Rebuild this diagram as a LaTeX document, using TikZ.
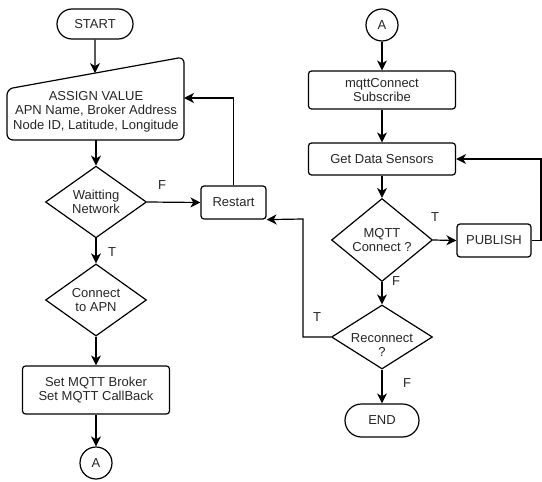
\documentclass[tikz,border=0pt]{standalone}
\usepackage{fontspec}
\setmainfont{Liberation Sans}
\usetikzlibrary{shapes.geometric,arrows.meta,calc}
\begin{document}
\begin{tikzpicture}[x=1pt,y=-1pt,
  font=\fontsize{13}{14.5}\selectfont,
  every node/.style={text=black!85},
  line/.style={line width=1.2pt, draw=black},
  arr/.style={line, -{Stealth[length=10pt,width=10pt,inset=3pt]}},
  box/.style={line, rectangle, rounded corners=3pt, align=center, inner sep=0pt},
  term/.style={line, rectangle, rounded corners=15pt, inner sep=0pt},
  dec/.style={line, diamond, align=center, inner sep=0pt, minimum width=101pt, minimum height=64pt},
  conn/.style={line, circle, inner sep=0pt, minimum size=32pt},
  lbl/.style={inner sep=0pt}]
\useasboundingbox (0,0) rectangle (542,482);

% left column
\node[term, minimum width=76pt, minimum height=30pt] (start) at (95,24) {START};

\coordinate (aTL) at (7,89);
\coordinate (aTR) at (184,57);
\coordinate (aBR) at (184,140);
\coordinate (aBL) at (7,140);
\draw[line, rounded corners=6pt] (aBL) -- (aTL) -- (aTR) -- (aBR) -- cycle;
\node[align=center, inner sep=0pt] (assign) at (96,111.5)
  {ASSIGN VALUE\\APN Name, Broker Address\\Node ID, Latitude, Longitude};
\coordinate (aIn) at (intersection of aTL--aTR and start.south--start.north);
\coordinate (aBot) at (96,140);
\coordinate (aR) at (184,98);

\node[dec] (wait) at (96,202) {Waitting\\Network};
\node[box, minimum width=65pt, minimum height=33pt] (restart) at (233.5,202.5) {Restart};
\node[dec] (apn) at (96,300) {Connect\\to APN};
\node[box, minimum width=147pt, minimum height=48pt] (broker) at (96,390) {Set MQTT Broker\\Set MQTT CallBack};
\node[conn] (a1) at (96,463) {A};

% right column
\node[conn] (a2) at (382,25) {A};
\node[box, minimum width=147pt, minimum height=38pt] (mqttc) at (382,90) {mqttConnect\\Subscribe};
\node[box, minimum width=147pt, minimum height=32pt] (sensors) at (382,159) {Get Data Sensors};
\node[dec] (mqtt) at (382,240) {MQTT\\Connect ?};
\node[box, minimum width=74pt, minimum height=33pt] (publish) at (494,240.5) {PUBLISH};
\node[dec, label={[align=center, inner sep=0pt, yshift=-8pt]center:Reconnect\\?}] (recon) at (382,337) {};
\node[term, minimum width=74pt, minimum height=33pt, rounded corners=16.5pt] (end) at (382,420.5) {END};

\coordinate (kink) at (303,219);
\coordinate (edgeTop) at (541,159);

% connectors
\draw[arr] (start.south) -- (aIn);
\draw[arr] (aBot) -- (wait.north);
\draw[arr] (wait.east) -- (restart.west);
\draw[arr] (restart.north) |- (aR);
\draw[arr] (wait.south) -- (apn.north);
\draw[arr] (apn.south) -- (broker.north);
\draw[arr] (broker.south) -- (a1.north);

\draw[arr] (a2.south) -- (mqttc.north);
\draw[arr] (mqttc.south) -- (sensors.north);
\draw[arr] (sensors.south) -- (mqtt.north);
\draw[arr] (mqtt.east) -- (publish.west);
\draw[arr] (mqtt.south) -- (recon.north);
\draw[arr] (recon.south) -- (end.north);
\draw[arr] (recon.west) -| (kink) -- (restart.south east);
\draw[arr] (publish.east) -| (edgeTop) -- (sensors.east);

% branch labels
\node[lbl] (fwait) at (162,185) {F};
\node[lbl] (twait) at (112,252) {T};
\node[lbl] (tmqtt) at (435,217) {T};
\node[lbl] (fmqtt) at (396,281) {F};
\node[lbl] (trecon) at (317,317) {T};
\node[lbl] (frecon) at (407,383) {F};
\end{tikzpicture}
\end{document}
